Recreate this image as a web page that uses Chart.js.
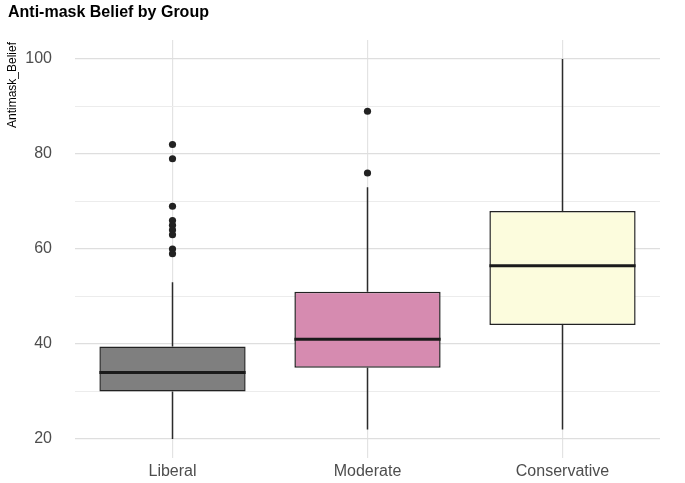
<!DOCTYPE html>
<html>
<head>
<meta charset="utf-8">
<script src="https://cdn.jsdelivr.net/npm/chart.js@4"></script>
<style>
  html, body { margin: 0; padding: 0; background: #fff; }
  #wrap { width: 685px; height: 483px; position: relative; }
</style>
</head>
<body>
<div id="wrap"><canvas id="box"></canvas></div>
<script>
const groups = ['Liberal', 'Moderate', 'Conservative'];
const q1 = [30, 35, 44];
const q3 = [39.5, 51, 68];
const medians = [34, 41, 56.5];
const whiskerLow = [20, 22, 22];
const whiskerHigh = [53, 73, 100];
const outliers = [[82, 79, 69, 66, 65, 64, 63, 60, 59], [89, 76], []];
const boxColors = ['#7f7f7f', '#d68bb0', '#fcfcdd'];
const yTicks = [20, 30, 40, 50, 60, 70, 80, 90, 100];
const yLabelled = [20, 40, 60, 80, 100];

const FONT = '"Liberation Sans", Arial, sans-serif';

const outlierPoints = [];
outliers.forEach((vals, i) => vals.forEach((v) => outlierPoints.push({ x: groups[i], y: v })));

const boxExtras = {
  id: 'boxExtras',
  beforeDatasetsDraw(chart) {
    const { ctx, scales: { x, y } } = chart;
    ctx.save();
    ctx.strokeStyle = '#2b2b2b';
    ctx.lineWidth = 1.5;
    groups.forEach((g, i) => {
      const px = x.getPixelForValue(i);
      ctx.beginPath();
      ctx.moveTo(px, y.getPixelForValue(whiskerLow[i]));
      ctx.lineTo(px, y.getPixelForValue(q1[i]));
      ctx.moveTo(px, y.getPixelForValue(q3[i]));
      ctx.lineTo(px, y.getPixelForValue(whiskerHigh[i]));
      ctx.stroke();
    });
    ctx.restore();
  },
  afterDatasetsDraw(chart) {
    const { ctx, scales: { y } } = chart;
    const meta = chart.getDatasetMeta(0);
    ctx.save();
    ctx.strokeStyle = '#1a1a1a';
    ctx.lineWidth = 3;
    meta.data.forEach((bar, i) => {
      const half = bar.width / 2;
      const py = y.getPixelForValue(medians[i]);
      ctx.beginPath();
      ctx.moveTo(bar.x - half, py);
      ctx.lineTo(bar.x + half, py);
      ctx.stroke();
    });
    ctx.restore();
  },
  afterDraw(chart) {
    const { ctx } = chart;
    ctx.save();
    ctx.fillStyle = '#000';
    ctx.font = 'bold 16px ' + FONT;
    ctx.textBaseline = 'middle';
    ctx.textAlign = 'left';
    ctx.fillText('Anti-mask Belief by Group', 8, 13);
    ctx.translate(13, 85);
    ctx.rotate(-Math.PI / 2);
    ctx.font = '12px ' + FONT;
    ctx.textAlign = 'center';
    ctx.fillText('Antimask_Belief', 0, 0);
    ctx.restore();
  }
};

new Chart(document.getElementById('box'), {
  type: 'bar',
  data: {
    labels: groups,
    datasets: [
      {
        label: 'box',
        data: groups.map((g, i) => [q1[i], q3[i]]),
        backgroundColor: boxColors,
        borderColor: '#222',
        borderWidth: 1.5,
        borderSkipped: false,
        barPercentage: 0.75,
        categoryPercentage: 1,
        order: 2
      },
      {
        type: 'scatter',
        label: 'outliers',
        data: outlierPoints,
        pointRadius: 3.6,
        pointBackgroundColor: '#222',
        pointBorderWidth: 0,
        showLine: false,
        order: 1
      }
    ]
  },
  options: {
    responsive: true,
    maintainAspectRatio: false,
    animation: false,
    layout: { padding: { left: 8, right: 25, top: 40, bottom: 0 } },
    plugins: { legend: { display: false }, tooltip: { enabled: false }, title: { display: false } },
    scales: {
      x: {
        type: 'category',
        offset: true,
        grid: { offset: false, color: '#e3e3e3', lineWidth: 1.2, drawTicks: false },
        border: { display: false },
        ticks: { font: { size: 16, family: FONT }, color: '#4d4d4d', padding: 4 },
        afterFit(scale) { scale.height = 25; }
      },
      y: {
        min: 16,
        max: 104,
        grid: {
          color: (c) => (c.tick && yLabelled.includes(c.tick.value) ? '#dedede' : '#ececec'),
          lineWidth: (c) => (c.tick && yLabelled.includes(c.tick.value) ? 1.3 : 1),
          drawTicks: false
        },
        border: { display: false },
        ticks: {
          padding: 23,
          font: { size: 16, family: FONT },
          color: '#4d4d4d',
          autoSkip: false,
          callback: (v) => (yLabelled.includes(v) ? String(v) : '')
        },
        afterBuildTicks(scale) { scale.ticks = yTicks.map((v) => ({ value: v })); },
        afterFit(scale) {
          scale.width = 67;
          scale.paddingTop = 0;
          scale.paddingBottom = 0;
        }
      }
    }
  },
  plugins: [boxExtras]
});
</script>
</body>
</html>
